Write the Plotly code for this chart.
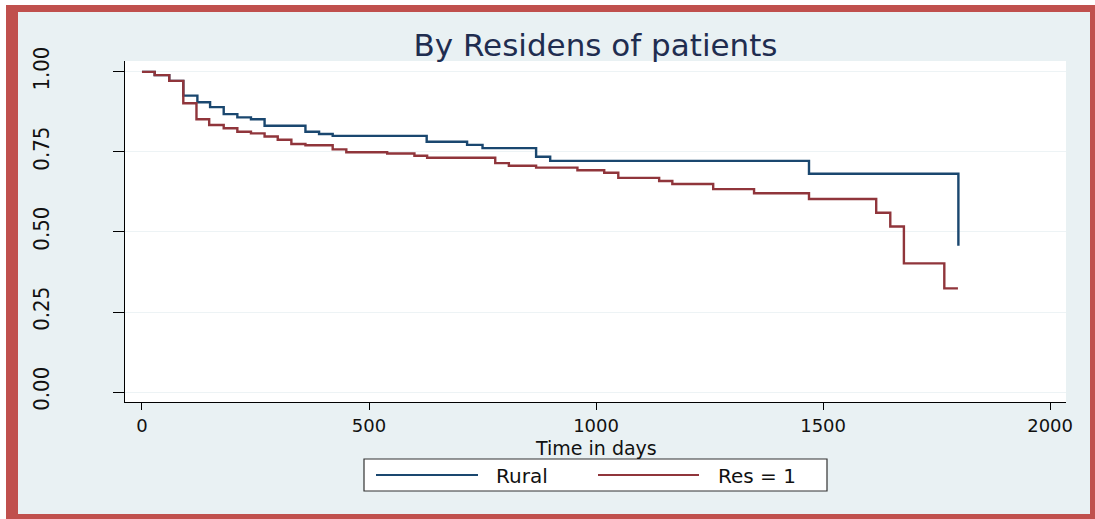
import plotly.graph_objects as go

# Kaplan-Meier survival estimates by residence (step points: time in days, survival)
rural_days = [0, 28, 60, 91, 122, 150, 180, 210, 240, 270, 360, 390, 420,
              627, 716, 750, 868, 899, 1469, 1798]
rural_surv = [1.0, 0.99, 0.972, 0.926, 0.905, 0.89, 0.868, 0.858, 0.852, 0.832,
              0.813, 0.806, 0.80, 0.782, 0.772, 0.762, 0.735, 0.722, 0.682, 0.457]

res1_days = [0, 28, 60, 91, 120, 148, 180, 210, 240, 270, 299, 329, 360, 420,
             450, 540, 600, 628, 778, 808, 868, 959, 1018, 1049, 1139, 1168,
             1258, 1348, 1469, 1617, 1648, 1678, 1767, 1797]
res1_surv = [1.0, 0.99, 0.972, 0.902, 0.852, 0.834, 0.824, 0.813, 0.808, 0.798,
             0.788, 0.775, 0.771, 0.758, 0.749, 0.745, 0.738, 0.732, 0.715, 0.707,
             0.701, 0.693, 0.685, 0.669, 0.659, 0.65, 0.634, 0.621, 0.603, 0.56,
             0.517, 0.402, 0.324, 0.324]

series_names = ["Rural", "Res = 1"]
x_ticks = [0, 500, 1000, 1500, 2000]
y_ticks = [0.0, 0.25, 0.5, 0.75, 1.0]

W, H = 1095, 519
ML, MR, MT, MB = 125, 29, 61, 117
PW, PH = W - ML - MR, H - MT - MB

BLUE = "#1a476f"
RED = "#90353b"
BG = "#e9f1f3"
FRAME = "#c0504d"


def px(x):
    return (x - ML) / PW


def py(y):
    return (H - MB - y) / PH


fig = go.Figure()
fig.add_trace(go.Scatter(x=rural_days, y=rural_surv, mode="lines", line_shape="hv",
                         line=dict(color=BLUE, width=2.4), name=series_names[0],
                         showlegend=False))
fig.add_trace(go.Scatter(x=res1_days, y=res1_surv, mode="lines", line_shape="hv",
                         line=dict(color=RED, width=2.4), name=series_names[1],
                         showlegend=False))

shapes = []
# white page edge and red picture frame
shapes.append(dict(type="rect", xref="paper", yref="paper", x0=px(0), x1=px(6),
                   y0=py(0), y1=py(H), fillcolor="white", line_width=0, layer="above"))
shapes.append(dict(type="rect", xref="paper", yref="paper", x0=px(0), x1=px(W),
                   y0=py(0), y1=py(5), fillcolor="white", line_width=0, layer="above"))
for x0, x1, y0, y1 in [(6, 18, 5, H), (6, W, 5, 12), (6, W, 514, H), (1090, W, 5, H)]:
    shapes.append(dict(type="rect", xref="paper", yref="paper", x0=px(x0), x1=px(x1),
                       y0=py(y0), y1=py(y1), fillcolor=FRAME, line_width=0, layer="above"))

# legend box with long line samples
shapes.append(dict(type="rect", xref="paper", yref="paper", x0=px(364), x1=px(827),
                   y0=py(491), y1=py(459), fillcolor="white",
                   line=dict(color="#333333", width=1.2), layer="above"))
shapes.append(dict(type="line", xref="paper", yref="paper", x0=px(376), x1=px(478),
                   y0=py(475), y1=py(475), line=dict(color=BLUE, width=2), layer="above"))
shapes.append(dict(type="line", xref="paper", yref="paper", x0=px(598), x1=px(699),
                   y0=py(475), y1=py(475), line=dict(color=RED, width=2), layer="above"))

txt_font = dict(family="DejaVu Sans", size=20, color="#111111")
annotations = [
    dict(text=series_names[0], xref="paper", yref="paper", x=px(494), y=py(476),
         xanchor="left", yanchor="middle", showarrow=False, font=txt_font),
    dict(text=series_names[1], xref="paper", yref="paper", x=px(716), y=py(476),
         xanchor="left", yanchor="middle", showarrow=False, font=txt_font),
    dict(text="Time in days", xref="paper", yref="paper", x=0.5, y=py(448),
         xanchor="center", yanchor="middle", showarrow=False,
         font=dict(family="DejaVu Sans", size=19, color="#111111")),
]

fig.update_layout(
    width=W, height=H,
    margin=dict(l=ML, r=MR, t=MT, b=MB, autoexpand=False),
    paper_bgcolor=BG, plot_bgcolor="white",
    title=dict(text="By Residens of patients", x=0.5, xref="paper", xanchor="center",
               y=1 - 45 / H, yref="container", yanchor="middle",
               font=dict(family="DejaVu Sans", size=31, color="#1f2d50")),
    shapes=shapes, annotations=annotations, showlegend=False,
)

fig.update_xaxes(
    range=[-37.4, 2035], tickvals=x_ticks, ticktext=[str(v) for v in x_ticks],
    ticks="outside", ticklen=7, tickwidth=1.2, tickcolor="black",
    showline=True, linecolor="black", linewidth=1.3, showgrid=False, zeroline=False,
    tickfont=dict(family="DejaVu Sans", size=18, color="#111111"),
    automargin=False,
)
fig.update_yaxes(
    range=[-0.031, 1.034], tickvals=y_ticks, ticktext=[f"{v:.2f}" for v in y_ticks],
    ticks="outside", ticklen=11, tickwidth=1.2, tickcolor="black", tickangle=-90,
    ticklabelstandoff=55,
    showline=True, linecolor="black", linewidth=1.3, showgrid=True,
    gridcolor="#edf3f5", gridwidth=1.2, zeroline=False,
    tickfont=dict(family="Liberation Sans Narrow, DejaVu Sans Condensed, Arial Narrow, sans-serif",
                  size=22, color="#111111"),
    automargin=False,
)

fig.write_html("out.html")
